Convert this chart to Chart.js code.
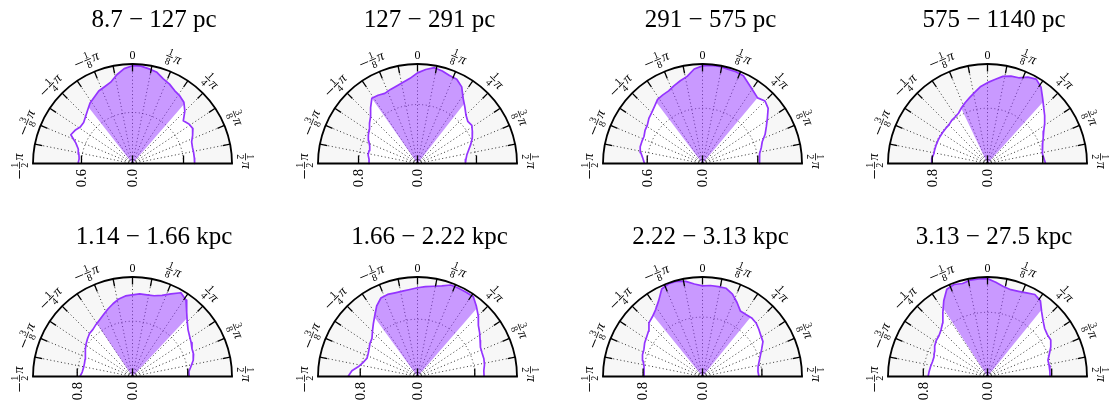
<!DOCTYPE html>
<html>
<head>
<meta charset="utf-8">
<script src="https://cdn.jsdelivr.net/npm/chart.js@4.4.1/dist/chart.umd.min.js"></script>
<style>
  html, body { margin: 0; padding: 0; background: #ffffff; }
  body { width: 1110px; height: 408px; position: relative; overflow: hidden; }
  canvas { position: absolute; }
</style>
</head>
<body>
<script>
// ---- data -----------------------------------------------------------------
// sampling angles of every profile, degrees clockwise from the +z (north) axis
const THETA_DEG = [-90,-85,-80,-75,-70,-65,-60,-55,-50,-45,-40,-35,-30,-25,-20,-15,-10,-5,
                   0,5,10,15,20,25,30,35,40,45,50,55,60,65,70,75,80,85,90];

const PANEL_TITLES = ['8.7 \u2212 127 pc', '127 \u2212 291 pc', '291 \u2212 575 pc', '575 \u2212 1140 pc',
                      '1.14 \u2212 1.66 kpc', '1.66 \u2212 2.22 kpc', '2.22 \u2212 3.13 kpc', '3.13 \u2212 27.5 kpc'];

// outer radius of each half-disc and its labelled radial tick
const R_MAX  = [1.17, 1.35, 1.08, 1.44, 1.44, 1.39, 1.34, 1.24];
const R_TICK = [0.6, 0.8, 0.6, 0.8, 0.8, 0.8, 0.8, 0.8];
const R_TICK_LABELS = ['0.6', '0.8', '0.6', '0.8', '0.8', '0.8', '0.8', '0.8'];

// angular extent of the shaded cone (degrees)
const WEDGE_LO = [-38, -35, -37, -25.5, -34, -36, -39, -33];
const WEDGE_HI = [ 41,  38,  40,  42,    43,  41,  39,  39];

// radial profiles r(theta), one per distance bin
const PROFILE_1 = [0.64,0.63,0.64,0.66,0.71,0.80,0.78,0.75,0.75,0.78,0.82,0.87,0.90,0.94,0.96,0.99,1.06,1.12,
                   1.15,1.15,1.13,1.11,1.06,1.03,0.99,0.97,0.94,0.87,0.78,0.81,0.82,0.78,0.74,0.73,0.73,0.73,0.73];
const PROFILE_2 = [0.65,0.66,0.68,0.68,0.69,0.73,0.77,0.80,0.85,0.90,0.99,1.08,1.07,1.05,1.07,1.09,1.12,1.16,
                   1.23,1.28,1.32,1.30,1.27,1.26,1.20,1.08,1.00,0.93,0.89,0.90,0.86,0.82,0.77,0.72,0.68,0.66,0.65];
const PROFILE_3 = [0.63,0.65,0.68,0.70,0.70,0.70,0.72,0.73,0.76,0.78,0.81,0.85,0.86,0.87,0.90,0.93,0.96,1.03,
                   1.06,1.07,1.07,1.06,1.06,1.05,1.00,0.96,0.93,0.96,0.93,0.86,0.80,0.75,0.69,0.66,0.63,0.62,0.62];
const PROFILE_4 = [0.81,0.81,0.79,0.79,0.79,0.79,0.79,0.79,0.79,0.79,0.81,0.82,0.84,0.89,0.94,0.99,1.05,1.12,
                   1.17,1.22,1.28,1.31,1.32,1.38,1.41,1.35,1.24,1.15,1.08,1.01,0.94,0.89,0.85,0.82,0.81,0.82,0.84];
const PROFILE_5 = [0.76,0.73,0.72,0.72,0.73,0.75,0.79,0.82,0.85,0.88,0.89,0.92,0.95,0.99,1.04,1.09,1.14,1.17,
                   1.18,1.20,1.20,1.21,1.25,1.32,1.40,1.35,1.22,1.12,1.05,1.01,0.98,0.95,0.94,0.91,0.86,0.82,0.82];
const PROFILE_6 = [0.97,0.92,0.83,0.78,0.75,0.76,0.78,0.81,0.83,0.89,0.96,1.04,1.14,1.21,1.22,1.21,1.21,1.22,
                   1.24,1.26,1.28,1.31,1.36,1.36,1.36,1.36,1.28,1.20,1.11,1.06,1.01,0.97,0.96,0.96,0.95,0.93,0.93];
const PROFILE_7 = [0.78,0.79,0.80,0.83,0.86,0.87,0.90,0.92,0.95,1.02,1.05,1.10,1.18,1.30,1.33,1.33,1.30,1.25,
                   1.22,1.23,1.23,1.23,1.18,1.10,1.02,1.02,1.03,1.02,0.99,0.96,0.94,0.88,0.83,0.79,0.76,0.75,0.76];
const PROFILE_8 = [0.74,0.73,0.72,0.71,0.71,0.73,0.76,0.78,0.79,0.82,0.87,0.97,1.09,1.20,1.22,1.20,1.22,1.22,
                   1.22,1.18,1.14,1.12,1.13,1.15,1.18,1.15,1.05,0.98,0.93,0.91,0.91,0.87,0.82,0.78,0.78,0.78,0.78];
const PROFILES = [PROFILE_1, PROFILE_2, PROFILE_3, PROFILE_4, PROFILE_5, PROFILE_6, PROFILE_7, PROFILE_8];

// angular tick labels every pi/8 : sign, numerator, denominator
const ANGLE_TICKS_DEG = [-90, -67.5, -45, -22.5, 0, 22.5, 45, 67.5, 90];
const ANGLE_TICK_LABELS = [
  {neg: true,  num: '1', den: '2'}, {neg: true,  num: '3', den: '8'},
  {neg: true,  num: '1', den: '4'}, {neg: true,  num: '1', den: '8'},
  {text: '0'},
  {neg: false, num: '1', den: '8'}, {neg: false, num: '1', den: '4'},
  {neg: false, num: '3', den: '8'}, {neg: false, num: '1', den: '2'}
];

// ---- layout & style --------------------------------------------------------
const COL_X = [132.5, 417.5, 702.5, 987.5];     // disc centres
const ROW_Y = [163.5, 376.5];
const TITLE_DX = [21.5, 12, 8, 6.5];
const TITLE_Y = [26.7, 244.3];
const DISC_R = 99.5;
const CW = 285, CH = 204, OX = 142.5, OY = 163.5;

const SERIF = '"Liberation Serif", "DejaVu Serif", serif';
const LINE_COLOR = 'rgb(148, 52, 255)';
const CONE_COLOR = 'rgba(148, 52, 255, 0.5)';
const RING_COLOR = '#f7f7f7';

const rad = d => d * Math.PI / 180;
const polar = (tDeg, r) => ({x: r * Math.sin(rad(tDeg)), y: r * Math.cos(rad(tDeg))});

function radiusAt(profile, tDeg) {
  for (let j = 0; j < THETA_DEG.length - 1; j++) {
    if (tDeg >= THETA_DEG[j] && tDeg <= THETA_DEG[j + 1]) {
      const f = (tDeg - THETA_DEG[j]) / (THETA_DEG[j + 1] - THETA_DEG[j]);
      return profile[j] + f * (profile[j + 1] - profile[j]);
    }
  }
  return profile[profile.length - 1];
}

function conePoints(profile, lo, hi) {
  const pts = [{x: 0, y: 0}, polar(lo, radiusAt(profile, lo))];
  THETA_DEG.forEach((t, j) => { if (t > lo && t < hi) pts.push(polar(t, profile[j])); });
  pts.push(polar(hi, radiusAt(profile, hi)));
  pts.push({x: 0, y: 0});
  return pts;
}

function drawAngleLabel(ctx, spec, x, y, rot) {
  ctx.save();
  ctx.translate(x, y);
  ctx.rotate(rot);
  ctx.fillStyle = '#000';
  const FS = 14, FS2 = 10;
  const small = FS2 + 'px ' + SERIF, ital = 'italic ' + FS + 'px ' + SERIF;
  if (spec.text) {
    ctx.font = '12px ' + SERIF; ctx.textAlign = 'center'; ctx.textBaseline = 'middle';
    ctx.fillText(spec.text, 0, 0.5);
    ctx.restore();
    return;
  }
  const wMinus = spec.neg ? FS * 0.6 : 0;
  ctx.font = ital;  const wPi = ctx.measureText('\u03c0').width;
  ctx.font = small; const wFrac = Math.max(ctx.measureText(spec.num).width, ctx.measureText(spec.den).width) + 2;
  const gap = 1.4;
  const total = wMinus + (spec.neg ? gap : 0) + wFrac + gap + wPi;
  let x0 = -total / 2 - 2.5;
  if (spec.neg) {
    // unary minus drawn as a rule on the maths axis
    ctx.fillRect(x0, -0.45, wMinus, 0.9);
    x0 += wMinus + gap;
  }
  ctx.textBaseline = 'alphabetic';
  ctx.font = small; ctx.textAlign = 'center';
  ctx.fillText(spec.num, x0 + wFrac / 2, -1.6);
  ctx.fillText(spec.den, x0 + wFrac / 2, 1.6 + FS2 * 0.68);
  ctx.fillRect(x0, -0.4, wFrac, 0.8);
  x0 += wFrac + gap;
  ctx.font = ital; ctx.textAlign = 'left';
  ctx.fillText('\u03c0', x0, FS * 0.27);
  ctx.restore();
}

// polar frame, grid and labels drawn from the chart's own x/y scales
const polarFrame = {
  id: 'polarFrame',
  geom(chart) {
    const xs = chart.scales.x, ys = chart.scales.y, o = chart.options.plugins.polarFrame;
    const cx = xs.getPixelForValue(0), cy = ys.getPixelForValue(0);
    const R = xs.getPixelForValue(o.rMax) - cx;
    const rt = xs.getPixelForValue(o.rTick) - cx;
    return {cx, cy, R, rt, o};
  },
  beforeDatasetsDraw(chart) {
    const {ctx} = chart, {cx, cy, R} = this.geom(chart);
    ctx.save();
    ctx.fillStyle = RING_COLOR;
    ctx.beginPath();
    ctx.moveTo(cx - R, cy);
    ctx.arc(cx, cy, R, Math.PI, 2 * Math.PI);
    ctx.closePath();
    ctx.fill();
    ctx.restore();
  },
  afterDatasetDraw(chart, args) {
    if (args.index !== 2) return;
    const {ctx} = chart, {cx, cy, R, rt} = this.geom(chart);
    ctx.save();
    ctx.strokeStyle = '#000';
    ctx.lineWidth = 0.8;
    ctx.setLineDash([1, 2.6]);
    for (let k = 1; k < 16; k++) {
      const t = rad(-90 + 11.25 * k);
      ctx.beginPath();
      ctx.moveTo(cx, cy);
      ctx.lineTo(cx + R * Math.sin(t), cy - R * Math.cos(t));
      ctx.stroke();
    }
    ctx.beginPath();
    ctx.arc(cx, cy, rt, Math.PI, 2 * Math.PI);
    ctx.stroke();
    ctx.restore();
  },
  afterDatasetsDraw(chart) {
    const {ctx} = chart, {cx, cy, R, rt, o} = this.geom(chart);
    ctx.save();
    ctx.strokeStyle = '#000';
    // outline
    ctx.lineWidth = 1.8;
    ctx.beginPath();
    ctx.arc(cx, cy, R, Math.PI, 2 * Math.PI);
    ctx.stroke();
    ctx.beginPath();
    ctx.moveTo(cx - R - 0.9, cy);
    ctx.lineTo(cx + R + 0.9, cy);
    ctx.stroke();
    // angular ticks every pi/16
    ctx.lineWidth = 1.3;
    for (let k = 1; k < 16; k++) {
      const t = rad(-90 + 11.25 * k), s = Math.sin(t), c = Math.cos(t);
      ctx.beginPath();
      ctx.moveTo(cx + R * s, cy - R * c);
      ctx.lineTo(cx + (R - 7.5) * s, cy - (R - 7.5) * c);
      ctx.stroke();
    }
    // radial ticks along the base
    [-rt, 0, rt].forEach(d => {
      ctx.beginPath();
      ctx.moveTo(cx + d, cy);
      ctx.lineTo(cx + d, cy - 8);
      ctx.stroke();
    });
    // angular labels
    ANGLE_TICKS_DEG.forEach((tDeg, k) => {
      const spec = ANGLE_TICK_LABELS[k];
      const d = R + (spec.text ? 9 : 13.5);
      const t = rad(tDeg);
      drawAngleLabel(ctx, spec, cx + d * Math.sin(t), cy - d * Math.cos(t), t);
    });
    // radial labels, reading upwards
    ctx.fillStyle = '#000';
    ctx.font = '14.5px ' + SERIF;
    ctx.textAlign = 'right';
    ctx.textBaseline = 'middle';
    [[0, '0.0'], [-rt, o.rLabel]].forEach(([d, txt]) => {
      ctx.save();
      ctx.translate(cx + d, cy + 5.5);
      ctx.rotate(-Math.PI / 2);
      ctx.fillText(txt, 0, 0.5);
      ctx.restore();
    });
    // title
    ctx.font = '25px ' + SERIF;
    ctx.textAlign = 'center';
    ctx.textBaseline = 'alphabetic';
    ctx.fillText(o.title, o.titleX, o.titleY);
    ctx.restore();
  }
};

function makePanel(i) {
  const col = i % 4, row = Math.floor(i / 4);
  const left = COL_X[col] - OX, top = ROW_Y[row] - OY;
  const canvas = document.createElement('canvas');
  canvas.width = CW; canvas.height = CH;
  canvas.style.left = left + 'px';
  canvas.style.top = top + 'px';
  document.body.appendChild(canvas);

  const rMax = R_MAX[i];
  const unit = rMax / DISC_R;           // data units per pixel
  const profile = PROFILES[i];
  const curve = THETA_DEG.map((t, j) => polar(t, profile[j]));
  const cone = conePoints(profile, WEDGE_LO[i], WEDGE_HI[i]);
  const clear = 'rgba(0,0,0,0)';

  new Chart(canvas, {
    type: 'scatter',
    data: {
      datasets: [
        {data: curve, showLine: true, borderColor: LINE_COLOR, borderWidth: 1.7,
         pointRadius: 0, fill: false, tension: 0, borderJoinStyle: 'round'},
        {data: cone, showLine: true, borderColor: clear, borderWidth: 1,
         pointRadius: 0, backgroundColor: CONE_COLOR, fill: 'shape', tension: 0},
        {data: curve, showLine: true, borderColor: clear, borderWidth: 1,
         pointRadius: 0, backgroundColor: '#ffffff', fill: 'shape', tension: 0}
      ]
    },
    options: {
      responsive: false,
      animation: false,
      devicePixelRatio: 1,
      layout: {padding: 0},
      events: [],
      scales: {
        x: {type: 'linear', display: false, min: -OX * unit, max: (CW - OX) * unit},
        y: {type: 'linear', display: false, min: -(CH - OY) * unit, max: OY * unit}
      },
      plugins: {
        legend: {display: false},
        tooltip: {enabled: false},
        polarFrame: {
          rMax: rMax, rTick: R_TICK[i], rLabel: R_TICK_LABELS[i], title: PANEL_TITLES[i],
          titleX: OX + TITLE_DX[col], titleY: TITLE_Y[row] - top
        }
      }
    },
    plugins: [polarFrame]
  });
}

for (let i = 0; i < 8; i++) makePanel(i);
</script>
</body>
</html>
